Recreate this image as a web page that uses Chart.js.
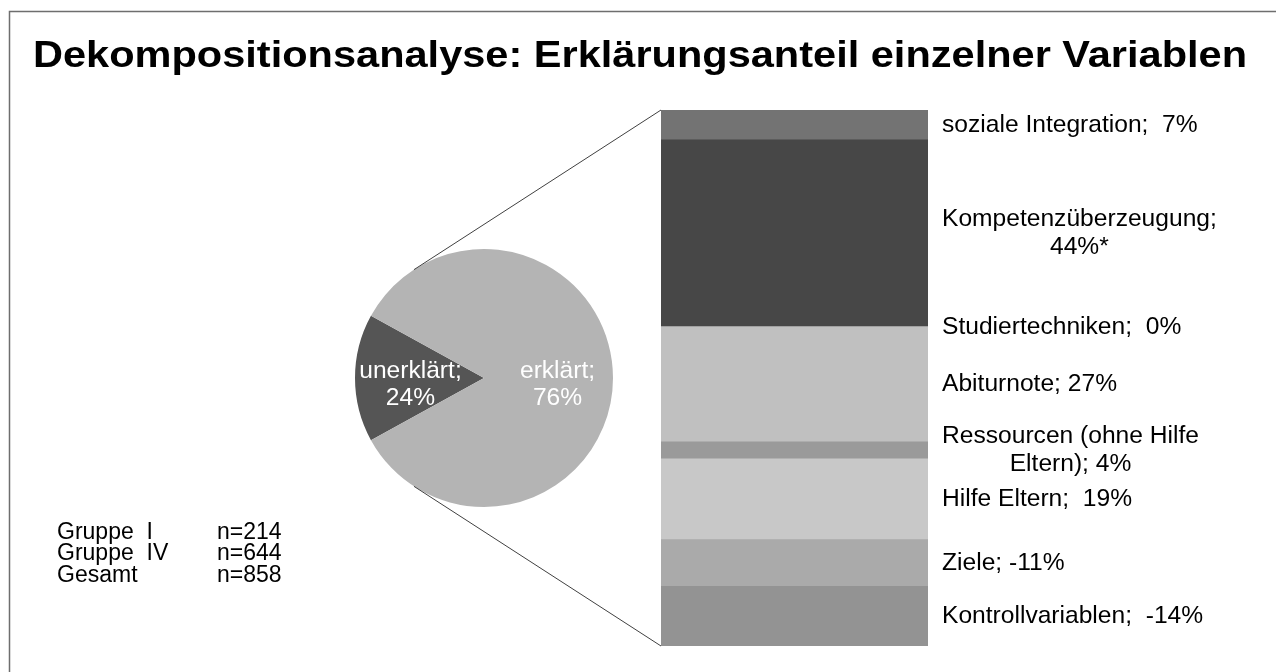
<!DOCTYPE html>
<html>
<head>
<meta charset="utf-8">
<script src="https://cdn.jsdelivr.net/npm/chart.js@4/dist/chart.umd.min.js"></script>
<style>
html,body{margin:0;padding:0;background:#fff;overflow:hidden}
#wrap{position:relative;width:1276px;height:672px}
canvas{position:absolute;left:0;top:0}
</style>
</head>
<body>
<div id="wrap">
<canvas id="barCanvas" width="1276" height="672"></canvas>
<canvas id="pieCanvas" width="1276" height="672"></canvas>
</div>
<script>
// ---------------- data ----------------
const chartTitle = 'Dekompositionsanalyse: Erklärungsanteil einzelner Variablen';
const barCategories = ['soziale Integration ', 'Kompetenzüberzeugung', 'Studiertechniken ', 'Abiturnote',
  'Ressourcen (ohne Hilfe Eltern)', 'Hilfe Eltern ', 'Ziele', 'Kontrollvariablen '];
const barValues = [7, 44, 0, 27, 4, 19, -11, -14];
const barMarks = ['', '*', '', '', '', '', '', ''];
const pieCategories = ['unerklärt', 'erklärt'];
const pieValues = [24, 76];
const sampleGroups = ['Gruppe  I', 'Gruppe  IV', 'Gesamt'];
const sampleSizes = [214, 644, 858];

// ---------------- styles ----------------
const FONT = '"Liberation Sans", Arial, Helvetica, sans-serif';
const barColors = ['#737373', '#474747', '#c0c0c0', '#c0c0c0', '#9a9a9a', '#c8c8c8', '#aaaaaa', '#939393'];
const pieColors = ['#555555', '#b4b4b4'];

// bar-of-pie: the "erklärt" slice is drawn as the sum of the bar segments' sizes
const barSizes = barValues.map(v => Math.abs(v));
const barTotal = barSizes.reduce((a, b) => a + b, 0);
const pieSizes = [pieValues[0], barTotal];
const firstSliceDeg = 360 * pieSizes[0] / (pieSizes[0] + pieSizes[1]);

function wrapText(ctx, text, maxW) {
  const words = text.split(/ (?! )/);
  const lines = [];
  let cur = '';
  words.forEach(w => {
    const t = cur ? cur + ' ' + w : w;
    if (ctx.measureText(t).width > maxW && cur) { lines.push(cur.trim()); cur = w; }
    else cur = t;
  });
  if (cur) lines.push(cur.trim());
  return lines;
}

// frame, title, sample sizes, bar data labels
const decorPlugin = {
  id: 'decor',
  beforeDraw(chart) {
    const ctx = chart.ctx;
    ctx.save();
    ctx.fillStyle = '#fff';
    ctx.fillRect(0, 0, chart.width, chart.height);
    ctx.strokeStyle = '#6e6e6e';
    ctx.lineWidth = 1.5;
    ctx.beginPath();
    ctx.moveTo(9.5, chart.height + 2);
    ctx.lineTo(9.5, 11.5);
    ctx.lineTo(chart.width + 2, 11.5);
    ctx.stroke();
    ctx.restore();
  },
  afterDraw(chart) {
    const ctx = chart.ctx;
    ctx.save();
    // title
    ctx.fillStyle = '#000';
    ctx.font = 'bold 37.5px ' + FONT;
    ctx.textBaseline = 'alphabetic';
    ctx.textAlign = 'left';
    const tw = ctx.measureText(chartTitle).width;
    ctx.translate(33, 67);
    ctx.scale(1214 / tw, 1);
    ctx.fillText(chartTitle, 0, 0);
    ctx.restore();

    // sample sizes
    ctx.save();
    ctx.fillStyle = '#000';
    ctx.font = '23px ' + FONT;
    ctx.textBaseline = 'alphabetic';
    sampleGroups.forEach((g, i) => {
      const y = 539 + i * 21.3;
      ctx.fillText(g, 57, y);
      ctx.fillText('n=' + sampleSizes[i], 217, y);
    });
    ctx.restore();

    // bar data labels
    ctx.save();
    ctx.fillStyle = '#000';
    ctx.font = '24.6px ' + FONT;
    ctx.textBaseline = 'middle';
    ctx.textAlign = 'center';
    const n = barCategories.length;
    chart.data.datasets.forEach((ds, di) => {
      const idx = n - 1 - di;
      const el = chart.getDatasetMeta(di).data[0];
      const cy = (el.y + el.base) / 2;
      const text = barCategories[idx] + '; ' + barValues[idx] + '%' + barMarks[idx];
      const fixed = text.replace(/ ;/, ';  ').replace(/;   /, ';  ');
      const lines = wrapText(ctx, fixed, 292);
      const bw = Math.max(...lines.map(l => ctx.measureText(l).width));
      const left = el.x + el.width / 2 + 14;
      const lh = 28.5;
      lines.forEach((l, li) => {
        ctx.fillText(l, left + bw / 2, cy + (li - (lines.length - 1) / 2) * lh);
      });
    });
    ctx.restore();
  }
};

const barDatasets = barCategories.map((c, i) => ({
  label: c.trim(),
  data: [barSizes[i]],
  backgroundColor: barColors[i],
  borderWidth: 0,
  barPercentage: 1,
  categoryPercentage: 1
})).reverse();

const barChart = new Chart(document.getElementById('barCanvas'), {
  type: 'bar',
  data: { labels: ['erklärt'], datasets: barDatasets },
  options: {
    responsive: false,
    animation: false,
    devicePixelRatio: 1,
    layout: { padding: { left: 661, right: 348, top: 110, bottom: 26 } },
    scales: {
      x: { stacked: true, display: false },
      y: { stacked: true, display: false, min: 0, max: barTotal }
    },
    plugins: { legend: { display: false }, tooltip: { enabled: false }, title: { display: false } }
  },
  plugins: [decorPlugin]
});

// pie labels and connector lines
const piePlugin = {
  id: 'pieExtras',
  afterDatasetsDraw(chart) {
    const ctx = chart.ctx;
    const meta = chart.getDatasetMeta(0);
    ctx.save();
    ctx.fillStyle = '#fff';
    ctx.font = '24.6px ' + FONT;
    ctx.textAlign = 'center';
    ctx.textBaseline = 'middle';
    meta.data.forEach((el, i) => {
      const mid = (el.startAngle + el.endAngle) / 2;
      const rr = el.outerRadius * 0.57;
      const x = el.x + Math.cos(mid) * rr;
      const y = el.y + Math.sin(mid) * rr + 7;
      ctx.fillText(pieCategories[i] + ';', x, y - 13.5);
      ctx.fillText(pieValues[i] + '%', x, y + 13.5);
    });
    ctx.restore();

    // connector lines: tangents from the bar's left corners to the pie
    const el0 = meta.data[0];
    const cx = el0.x, cy = el0.y, r = el0.outerRadius;
    const bmeta = barChart.data.datasets.map((d, i) => barChart.getDatasetMeta(i).data[0]);
    const bx = bmeta[0].x - bmeta[0].width / 2;
    const btop = Math.min(...bmeta.map(e => e.y));
    const bbot = Math.max(...bmeta.map(e => e.base));
    ctx.save();
    ctx.strokeStyle = '#404040';
    ctx.lineWidth = 1;
    [[bx, btop, -1], [bx, bbot, 1]].forEach(([px, py, s]) => {
      const dx = px - cx, dy = py - cy;
      const d = Math.hypot(dx, dy);
      const base = Math.atan2(dy, dx);
      const a = base + s * Math.acos(r / d);
      const tx = cx + r * Math.cos(a), ty = cy + r * Math.sin(a);
      ctx.beginPath();
      ctx.moveTo(tx, ty);
      ctx.lineTo(px, py);
      ctx.stroke();
    });
    ctx.restore();
  }
};

new Chart(document.getElementById('pieCanvas'), {
  type: 'pie',
  data: {
    labels: pieCategories,
    datasets: [{ data: pieSizes, backgroundColor: pieColors, borderWidth: 0 }]
  },
  options: {
    responsive: false,
    animation: false,
    devicePixelRatio: 1,
    rotation: 270 - firstSliceDeg / 2,
    layout: { padding: { left: 355, right: 663, top: 249, bottom: 165 } },
    plugins: { legend: { display: false }, tooltip: { enabled: false } }
  },
  plugins: [piePlugin]
});
</script>
</body>
</html>
